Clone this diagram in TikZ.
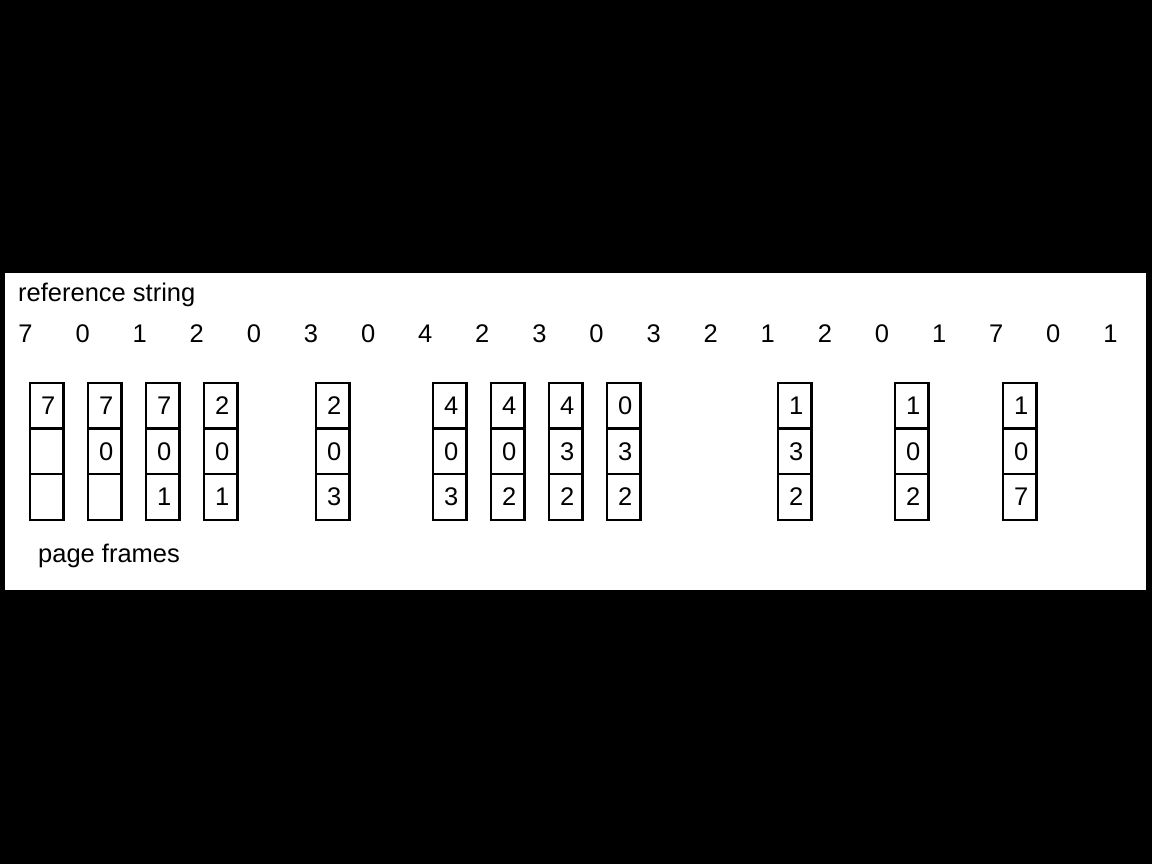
\documentclass[tikz,border=0pt]{standalone}
\usepackage{fontspec}
\setmainfont{Liberation Sans}
\usetikzlibrary{positioning}

\tikzset{
    cell/.style={draw, line width=2.4pt, outer sep=0pt, inner xsep=8pt, inner ysep=0pt,
        text width=17.3pt, align=right, minimum height=45.7pt},
}

\begin{document}
\begin{tikzpicture}[x=1pt, y=-1pt, font=\fontsize{25.5}{30}\selectfont]
            \useasboundingbox (0,0) rectangle (1152,864);
            \fill[black] (0,0) rectangle (1152,864);
            \fill[white] (5,273) rectangle (1146,590);

            \node[anchor=base west, inner sep=0pt] (refstr) at (18,301.7) {reference string};
            \node[anchor=base west, inner sep=0pt] (frames) at (38,562) {page frames};

            % the reference string
            \foreach \p [count=\i from 0] in {7,0,1,2,0,3,0,4,2,3,0,3,2,1,2,0,1,7,0,1}
                \node[inner sep=0pt] (r\i) at (25.5+57.1*\i, 333.4) {\p};

            % frame contents after each fault
            \foreach \x/\a/\b/\c [count=\i] in {30/7/{}/{}, 88/7/0/{}, 146/7/0/1, 204/2/0/1,
                    316/2/0/3, 433/4/0/3, 491/4/0/2, 549/4/3/2, 607/0/3/2,
                    778/1/3/2, 895/1/0/2, 1003/1/0/7} {
                \node[cell, anchor=north west] (f\i-1) at (\x,382.7) {\a};
                \node[cell, below=0pt of f\i-1] (f\i-2) {\b};
                \node[cell, below=0pt of f\i-2] (f\i-3) {\c};
            }
        \end{tikzpicture}
\end{document}
